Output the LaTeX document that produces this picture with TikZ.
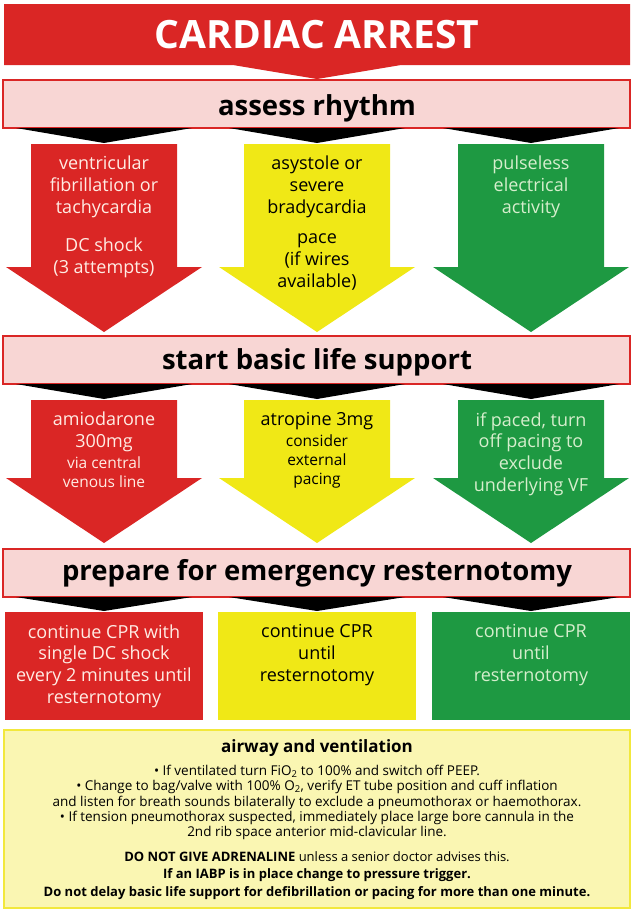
\documentclass[tikz,border=0pt]{standalone}
\usepackage{fontspec}
\setmainfont{Open Sans}
\usetikzlibrary{positioning}

\definecolor{arrestred}{RGB}{218,38,37}
\definecolor{arrestyellow}{RGB}{240,232,22}
\definecolor{arrestgreen}{RGB}{30,153,66}
\definecolor{bandpink}{RGB}{248,214,212}
\definecolor{notepale}{RGB}{250,246,178}
\definecolor{noteedge}{RGB}{242,232,60}
\definecolor{redtext}{RGB}{255,236,228}
\definecolor{greentext}{RGB}{214,238,205}

\begin{document}
\begin{tikzpicture}[x=1pt,y=-1pt,
        band/.style={draw=arrestred,line width=2pt,fill=bandpink,
                     minimum width=627pt,minimum height=48pt,inner sep=0pt},
        bandtext/.style={font=\fontsize{27.5}{32}\selectfont\bfseries,anchor=base,inner sep=0pt},
        bigtext/.style={font=\fontsize{18}{21.7}\selectfont,align=center,inner sep=0pt},
        smalltext/.style={font=\fontsize{15.5}{19}\selectfont,align=center,inner sep=0pt},
        notetext/.style={font=\fontsize{13.5}{15.4}\selectfont,align=center,inner sep=0pt},
        boldnote/.style={font=\fontsize{13}{15}\selectfont\bfseries,inner sep=0pt}]
        \useasboundingbox (0,0) rectangle (631,910);

        % the title with its point
        \fill[arrestred] (4,4) -- (630,4) -- (630,65) -- (401,65) -- (317,79)
              -- (233,65) -- (4,65) -- cycle;
        \node[font=\fontsize{39}{43}\selectfont\bfseries,text=white,anchor=base,inner sep=0pt]
              (title) at (317,48) {CARDIAC ARREST};

        % the three pink bands
        \node[band] (assessband)  at (316.5,104) {};
        \node[band] (supportband) at (316.5,359.5) {};
        \node[band] (resternband) at (316.5,572.5) {};
        \node[bandtext] (assess)  at (317,115) {assess rhythm};
        \node[bandtext] (support) at (317,369) {start basic life support};
        \node[bandtext] (restern) at (317,580) {prepare for emergency resternotomy};

        \foreach \c/\col in {104/arrestred,317/arrestyellow,531/arrestgreen} {
                % black shadows under the bands
                \fill[black] (\c-88,128) -- (\c+88,128) -- (\c,143) -- cycle;
                \fill[black] (\c-88,384) -- (\c+88,384) -- (\c,399) -- cycle;
                \fill[black] (\c-88,597) -- (\c+88,597) -- (\c,611) -- cycle;
                % upper arrows
                \fill[\col] (\c-73,144) -- (\c+73,144) -- (\c+73,267) -- (\c+98,267)
                      -- (\c,332) -- (\c-98,267) -- (\c-73,267) -- cycle;
                % lower arrows
                \fill[\col] (\c-73,400) -- (\c+73,400) -- (\c+73,478) -- (\c+98,478)
                      -- (\c,543) -- (\c-98,478) -- (\c-73,478) -- cycle;
                % boxes at the foot
                \fill[\col] (\c-99,612) rectangle (\c+99,720);
        }

        % texts of the upper arrows
        \node[bigtext,text=redtext] (vf) at (104,187) {ventricular\\fibrillation or\\tachycardia};
        \node[bigtext,text=redtext] (shock) at (104,258) {DC shock\\(3 attempts)};
        \node[bigtext] (asystole) at (317,187) {asystole or\\severe\\bradycardia};
        \node[bigtext] (pace) at (317,262) {pace\\(if wires\\available)};
        \node[bigtext,text=greentext] (pea) at (531,187) {pulseless\\electrical\\activity};

        % texts of the lower arrows
        \node[bigtext,text=redtext] (amio) at (104,432) {amiodarone\\300mg};
        \node[smalltext,text=redtext] (venous) at (104,472.5) {via central\\venous line};
        \node[bigtext] (atropine) at (317,421) {atropine 3mg};
        \node[smalltext] (external) at (317,461) {consider\\external\\pacing};
        \node[bigtext,text=greentext] (paced) at (531,454) {if paced, turn\\off pacing to\\exclude\\underlying VF};

        % texts of the boxes
        \node[bigtext,text=redtext] (cprshock) at (104,666) {continue CPR with\\single DC shock\\every 2 minutes until\\resternotomy};
        \node[bigtext] (cpryellow) at (317,655) {continue CPR\\until\\resternotomy};
        \node[bigtext,text=greentext] (cprgreen) at (531,655) {continue CPR\\until\\resternotomy};

        % airway and ventilation
        \draw[noteedge,line width=2pt,fill=notepale] (4,730) rectangle (630,908);
        \node[font=\fontsize{17}{20}\selectfont\bfseries,inner sep=0pt] (airway) at (317,748) {airway and ventilation};
        \node[notetext] (bullets) at (317,802.5) {\textbullet\ If ventilated turn FiO\textsubscript{2} to 100\% and switch off PEEP.\\
              \textbullet\ Change to bag/valve with 100\% O\textsubscript{2}, verify ET tube position and cuff inflation\\
              and listen for breath sounds bilaterally to exclude a pneumothorax or haemothorax.\\
              \textbullet\ If tension pneumothorax suspected, immediately place large bore cannula in the\\
              2nd rib space anterior mid-clavicular line.};
        \node[font=\fontsize{13}{15}\selectfont,inner sep=0pt] (adrenaline) at (317,857)
              {\textbf{DO NOT GIVE ADRENALINE} unless a senior doctor advises this.};
        \node[boldnote] (iabp) at (317,875) {If an IABP is in place change to pressure trigger.};
        \node[boldnote] (delay) at (317,893) {Do not delay basic life support for defibrillation or pacing for more than one minute.};
\end{tikzpicture}
\end{document}
